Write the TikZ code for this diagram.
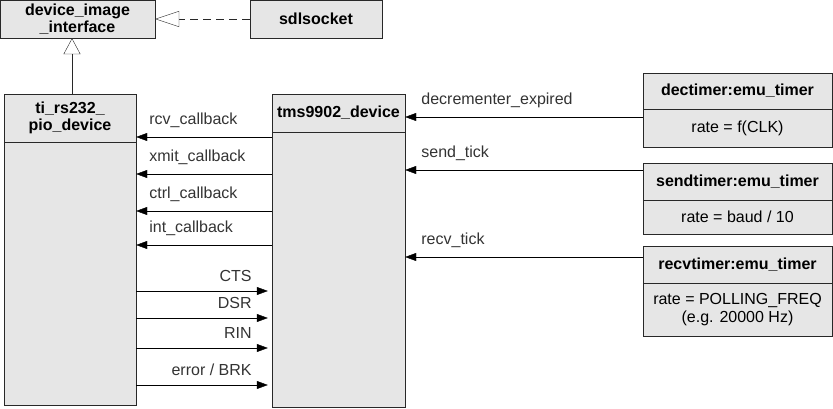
\documentclass[tikz,border=0pt]{standalone}
\usepackage{fontspec}
\setmainfont{Liberation Sans}
\usetikzlibrary{arrows.meta,positioning}
\definecolor{BoxGray}{RGB}{230,230,230}
\definecolor{LineGray}{RGB}{40,40,40}
\definecolor{TextGray}{RGB}{51,51,51}
\newcommand{\compline}[2]{%
  \draw[LineGray] (#1.west |- 0,#2)--(#1.east |- 0,#2);}

\begin{document}
\begin{tikzpicture}[x=1pt,y=-1pt,font=\fontsize{16}{18}\selectfont,
  box/.style={draw=LineGray,fill=BoxGray,inner sep=0pt},
  title/.style={font=\fontsize{16}{17}\selectfont\bfseries,align=center,inner sep=0pt},
  body/.style={align=center,inner sep=0pt},
  sig/.style={-{Triangle[length=11pt,width=8pt]},black},
  lab/.style={TextGray,inner sep=0pt,text height=12pt,text depth=4pt}]
  \useasboundingbox (0,0) rectangle (833,409);
  % class boxes
  \node[box,minimum width=155,minimum height=38] (iface) at (77.5,19) {};
  \node[title] (ifacet) at (iface.center) {device\_image\\\_interface};
  \node[box,minimum width=132,minimum height=38] (sdl) at (316,19) {};
  \node[title] (sdlt) at (sdl.center) {sdlsocket};
  \node[box,minimum width=132,minimum height=311] (pio) at (70,249.5) {};
  \node[title] (piot) at (pio.north |- 0,118) {ti\_rs232\_\\pio\_device};
  \compline{pio}{142}
  \node[box,minimum width=133,minimum height=313] (tms) at (338.5,250.5) {};
  \node[title] (tmst) at (tms.north |- 0,113) {tms9902\_device};
  \compline{tms}{132}
  % timers
  \node[box,minimum width=189,minimum height=74] (dec) at (737.5,110) {};
  \node[title] (dect) at (dec.north |- 0,91) {dectimer:emu\_timer};
  \node[body] (decb) at (dec.north |- 0,128) {rate = f(CLK)};
  \compline{dec}{109}
  \node[box,minimum width=189,minimum height=71] (snd) at (737.5,198.5) {};
  \node[title] (sndt) at (snd.north |- 0,181.5) {sendtimer:emu\_timer};
  \node[body] (sndb) at (snd.north |- 0,217) {rate = baud / 10};
  \compline{snd}{200}
  \node[box,minimum width=189,minimum height=90] (rcv) at (737.5,291) {};
  \node[title] (rcvt) at (rcv.north |- 0,264.5) {recvtimer:emu\_timer};
  \node[body] (rcvb) at (rcv.north |- 0,309.5) {rate = POLLING\_FREQ\\(e.g. 20000 Hz)};
  \compline{rcv}{283}
  % inheritance
  \draw[LineGray,dash pattern=on 8pt off 5pt,-{Triangle[open,length=24pt,width=16pt,fill=white]}] (sdl.west) -- (iface.east);
  \draw[LineGray,-{Triangle[open,length=16pt,width=17pt,fill=white]}] ([xshift=2]pio.north) -- ([xshift=2]pio.north |- iface.south);
  % timer ticks
  \draw[sig] (dec.west |- 0,117) -- (tms.east |- 0,117) node[lab,anchor=south west,xshift=16,yshift=8] {decrementer\_expired};
  \draw[sig] (snd.west |- 0,170) -- (tms.east |- 0,170) node[lab,anchor=south west,xshift=16,yshift=8] {send\_tick};
  \draw[sig] (rcv.west |- 0,257) -- (tms.east |- 0,257) node[lab,anchor=south west,xshift=16,yshift=8] {recv\_tick};
  % callbacks
  \foreach \yy/\txt in {137/rcv\_callback,174/xmit\_callback,211/ctrl\_callback,245/int\_callback}
    \draw[sig] (tms.west |- 0,\yy) -- (pio.east |- 0,\yy) node[lab,anchor=south west,xshift=13,yshift=8] {\txt};
  % lines
  \foreach \yy/\txt in {291/CTS,318/DSR,348/RIN,385/{error / BRK}}
    \draw[sig,shorten >=4pt] (pio.east |- 0,\yy) -- (tms.west |- 0,\yy) node[lab,anchor=south east,xshift=-20,yshift=5] {\txt};
\end{tikzpicture}
\end{document}
